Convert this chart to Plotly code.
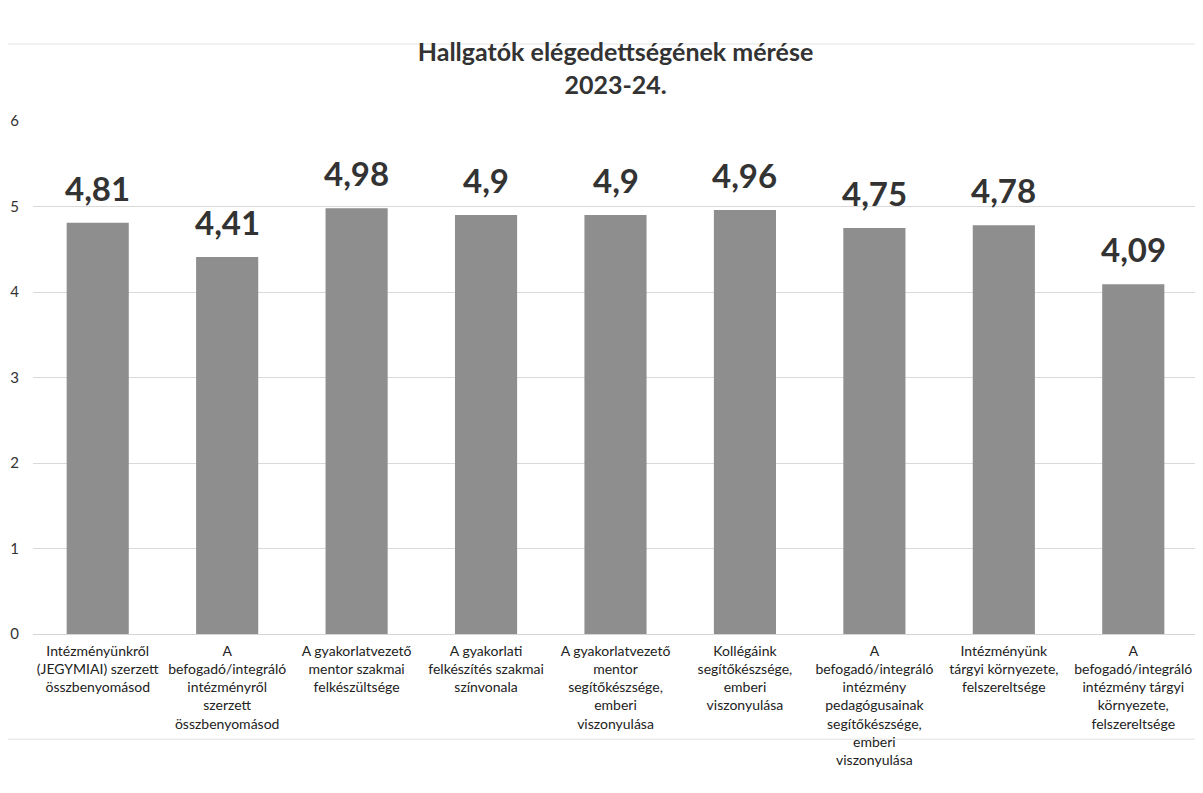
import plotly.graph_objects as go

categories = [
    "Intézményünkről<br>(JEGYMIAI) szerzett<br>összbenyomásod",
    "A<br>befogadó/integráló<br>intézményről<br>szerzett<br>összbenyomásod",
    "A gyakorlatvezető<br>mentor szakmai<br>felkészültsége",
    "A gyakorlati<br>felkészítés szakmai<br>színvonala",
    "A gyakorlatvezető<br>mentor<br>segítőkészsége,<br>emberi<br>viszonyulása",
    "Kollégáink<br>segítőkészsége,<br>emberi<br>viszonyulása",
    "A<br>befogadó/integráló<br>intézmény<br>pedagógusainak<br>segítőkészsége,<br>emberi<br>viszonyulása",
    "Intézményünk<br>tárgyi környezete,<br>felszereltsége",
    "A<br>befogadó/integráló<br>intézmény tárgyi<br>környezete,<br>felszereltsége",
]
values = [4.81, 4.41, 4.98, 4.9, 4.9, 4.96, 4.75, 4.78, 4.09]
labels = ["4,81", "4,41", "4,98", "4,9", "4,9", "4,96", "4,75", "4,78", "4,09"]
y_ticks = [0, 1, 2, 3, 4, 5, 6]

fig = go.Figure(go.Bar(
    x=categories, y=values,
    marker=dict(color="#8e8e8e", line=dict(width=0)),
    width=0.48,
))

for c, v, t in zip(categories, values, labels):
    fig.add_annotation(x=c, y=v, text=t, showarrow=False, yanchor="bottom", yshift=13,
                       font=dict(size=33, color="#333333", family="Lato", weight="bold"))

fig.update_layout(
    width=1203, height=793,
    paper_bgcolor="white", plot_bgcolor="white",
    margin=dict(l=25, r=13, t=113, b=167, autoexpand=False),
    title=dict(text="Hallgatók elégedettségének mérése<br>2023-24.", x=0.505, xanchor="center",
               y=0.933, yanchor="top",
               font=dict(family="Lato", size=25, color="#333333", weight="bold")),
    font=dict(family="Lato", color="#333333"),
    showlegend=False,
)
fig.update_yaxes(range=[0, 6], tickvals=y_ticks, showgrid=True, gridcolor="#d9d9d9",
                 gridwidth=1, zeroline=False, showline=False, automargin=False,
                 tickfont=dict(size=15, color="#333333"), ticks="", ticklabelstandoff=13)
fig.update_xaxes(showline=True, linecolor="#d4d4d4", tickangle=0, automargin=False,
                 tickfont=dict(size=14, color="#222222"), ticks="", ticklabelstandoff=4)
fig.add_shape(type="rect", xref="paper", yref="paper", x0=-0.024, y0=-0.205, x1=1.02, y1=1.15,
              line=dict(color="#e2e2e2", width=1))

fig.write_html("out.html")
